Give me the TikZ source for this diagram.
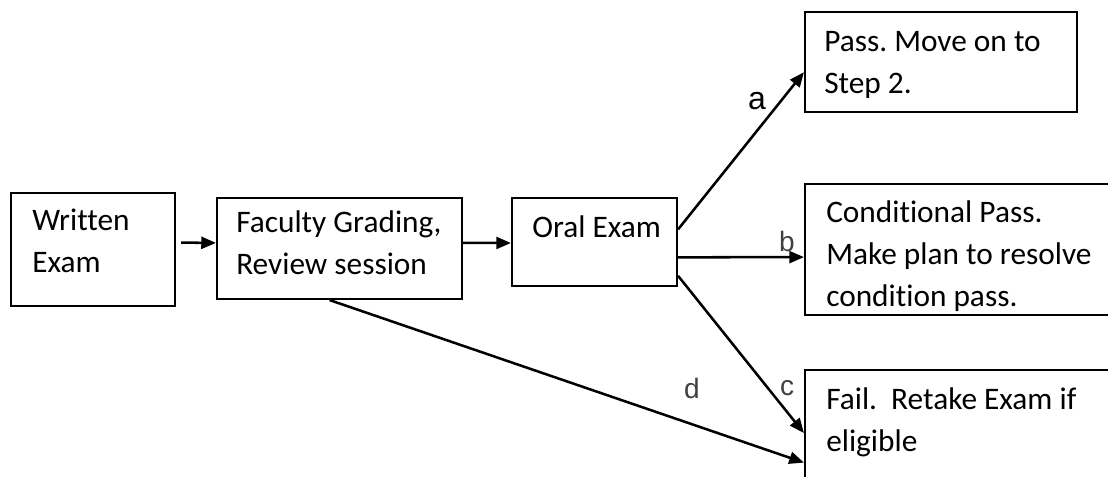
\documentclass[tikz,border=0pt]{standalone}
\usepackage{fontspec}
\setmainfont{Carlito}[RawFeature={-liga;-clig;-calt;-dlig}]
\newfontfamily\labelfont{Liberation Sans}
\usetikzlibrary{arrows.meta,calc,fit}
\frenchspacing
\begin{document}
\begin{tikzpicture}[x=0.75pt,y=-0.75pt,
  box/.style={draw, line width=1.6pt, rectangle, inner sep=0pt},
  txt/.style={anchor=base west, align=left, inner sep=0pt,
    font=\fontsize{23.5}{31.5}\selectfont},
  arr/.style={line width=1.9pt, -{Triangle[length=11pt,width=9pt]}},
  lbl/.style={inner sep=0pt, text=black!75, font=\labelfont\fontsize{21}{24}\selectfont}]
\useasboundingbox (0,0) rectangle (1108,476);
\clip (0,0) rectangle (1108,476);

% boxes
\node[box, fit={(11,193) (175,306)}] (we) {};
\node[box, fit={(217,198) (462,299)}] (fac) {};
\node[box, fit={(512,198) (677,286)}] (oral) {};
\node[box, fit={(805,12) (1077,112)}] (pass) {};
\node[box, fit={(805,184) (1118,315)}] (cond) {};
\node[box, fit={(805,370) (1118,490)}] (fail) {};

% texts (anchor = baseline of the last line)
\node[txt] (twe) at (32,272) {Written\\Exam};
\node[txt] (tfac) at (236,274) {Faculty Grading,\\Review session};
\node[txt] (toral) at (532,237) {Oral Exam};
\node[txt] (tpass) at (824,93) {Pass. Move on to\\Step 2.};
\begin{scope}
  \clip (806,185) rectangle (1108,314);
  \node[txt] (tcond) at (826,306) {Conditional Pass.\\Make plan to resolve\\condition pass.};
\end{scope}
\node[txt] (tfail) at (826,451) {Fail.\ \ Retake Exam if\\eligible};

% connectors
\draw[arr] ($($(we.north east)!0.44!(we.south east)$)+(5,0)$) -- ($(fac.north west)!0.446!(fac.south west)$);
\draw[arr] ($(fac.north east)!0.446!(fac.south east)$) -- ($(oral.north west)!0.511!(oral.south west)$);
\draw[arr] ($(oral.north east)!0.36!(oral.south east)$) -- ($(pass.north west)!0.6!(pass.south west)$);
\draw[arr] ($(oral.north east)!0.67!(oral.south east)$) -- ($(cond.north west)!0.557!(cond.south west)$);
\draw[arr] ($(oral.north east)!0.875!(oral.south east)$) -- ($(fail.north west)!0.525!(fail.south west)$);
\draw[arr] ($(fac.south west)!0.46!(fac.south east)$) -- ($(fail.north west)!0.767!(fail.south west)$);

% labels
\node[lbl, text=black, font=\labelfont\fontsize{24}{26}\selectfont] (la) at (757,101) {a};
\node[lbl] (lb) at (787,241) {b};
\node[lbl] (lc) at (787,388) {c};
\node[lbl] (ld) at (692,388) {d};
\end{tikzpicture}
\end{document}
